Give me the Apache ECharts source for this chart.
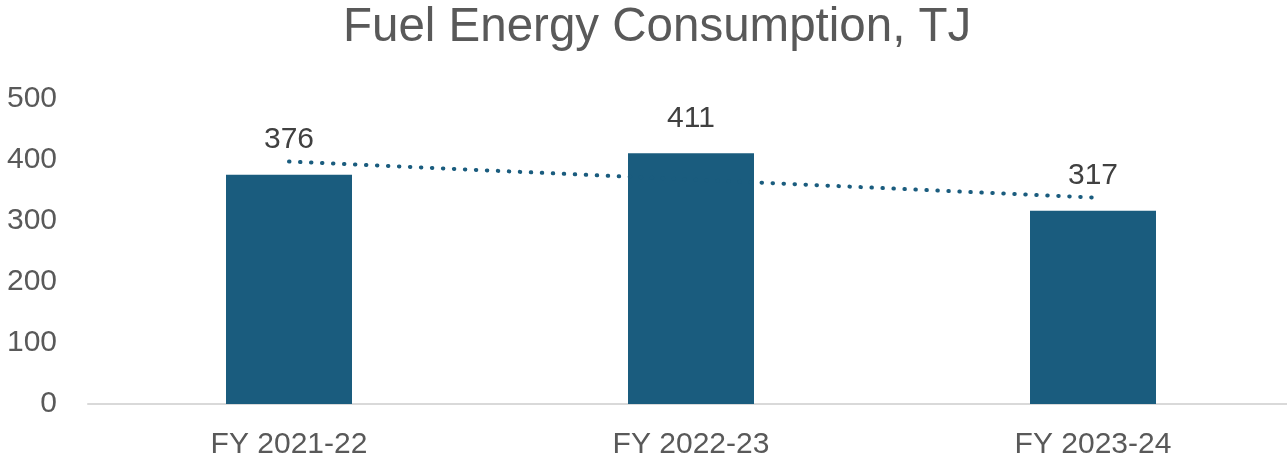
<!DOCTYPE html>
<html>
<head>
<meta charset="utf-8">
<script src="https://cdn.jsdelivr.net/npm/echarts@6/dist/echarts.min.js"></script>
<style>
  html, body { margin: 0; padding: 0; background: #ffffff; overflow: hidden; }
  #chart { width: 1294px; height: 466px; }
</style>
</head>
<body>
<div id="chart"></div>
<script>
// Fiscal years on the x axis
const categories = ['FY 2021-22', 'FY 2022-23', 'FY 2023-24'];
// Fuel energy consumption per year, TJ
const consumption = [376, 411, 317];
// Linear trend across the three years, TJ
const trend = [397.5, 368, 338.5];
// Value axis tick range
const yMin = 0, yMax = 500, yStep = 100;

const textColor = '#595959';
const barColor = '#1a5c7e';
const fontFamily = '"Liberation Sans", Arial, sans-serif';

const chart = echarts.init(document.getElementById('chart'), null, { renderer: 'canvas' });
chart.setOption({
  animation: false,
  backgroundColor: '#ffffff',
  title: {
    text: 'Fuel Energy Consumption, TJ',
    left: 343,
    top: 0,
    padding: [4, 0, 0, 0],
    textStyle: { color: textColor, fontFamily, fontWeight: 'normal', fontSize: 47.5 }
  },
  grid: { left: 88, right: 0, top: 99, height: 305, containLabel: false },
  xAxis: {
    type: 'category',
    data: categories,
    axisLine: { lineStyle: { color: '#d9d9d9', width: 2 } },
    axisTick: { show: false },
    axisLabel: { color: textColor, fontFamily, fontSize: 30, margin: 26 }
  },
  yAxis: {
    type: 'value',
    min: yMin, max: yMax, interval: yStep,
    splitLine: { show: false },
    axisLine: { show: false },
    axisTick: { show: false },
    axisLabel: { color: textColor, fontFamily, fontSize: 30, margin: 31 }
  },
  series: [
    {
      type: 'bar',
      data: consumption,
      barWidth: 126,
      itemStyle: { color: barColor },
      label: {
        show: true,
        position: 'top',
        distance: 20,
        color: '#404040',
        fontFamily,
        fontSize: 30
      },
      z: 2
    },
    {
      type: 'line',
      data: trend,
      symbol: 'none',
      silent: true,
      lineStyle: { color: barColor, width: 4, type: [0.5, 10.5], cap: 'round' },
      z: 3
    }
  ]
});
</script>
</body>
</html>
